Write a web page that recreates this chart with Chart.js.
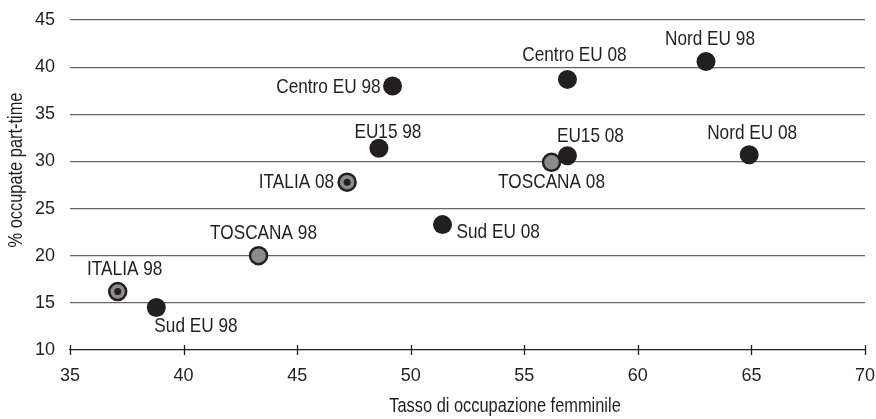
<!DOCTYPE html>
<html>
<head>
<meta charset="utf-8">
<script src="https://cdn.jsdelivr.net/npm/chart.js@4.4.1/dist/chart.umd.min.js"></script>
<style>
  html, body { margin: 0; padding: 0; background: #fff; }
  #wrap { width: 876px; height: 419px; }
</style>
</head>
<body>
<div id="wrap"><canvas id="chart" width="876" height="419"></canvas></div>
<script>
// ***************************************************
// Data
// ***************************************************

var names = ['ITALIA 98', 'Sud EU 98', 'TOSCANA 98', 'ITALIA 08', 'EU15 98', 'Centro EU 98',
             'Sud EU 08', 'TOSCANA 08', 'EU15 08', 'Centro EU 08', 'Nord EU 98', 'Nord EU 08'];
var femaleEmployment = [37.1, 38.8, 43.3, 47.2, 48.6, 49.2, 51.4, 56.2, 56.9, 56.9, 63.0, 64.9];
var partTime = [16.2, 14.5, 20.0, 27.8, 31.4, 38.0, 23.3, 29.9, 30.6, 38.7, 40.6, 30.7];
var kinds = ['italia', 'eu', 'toscana', 'italia', 'eu', 'eu', 'eu', 'toscana', 'eu', 'eu', 'eu', 'eu'];

var xTicks = [35, 40, 45, 50, 55, 60, 65, 70];
var yTicks = [10, 15, 20, 25, 30, 35, 40, 45];

var xTitle = 'Tasso di occupazione femminile';
var yTitle = '% occupate part-time';

// label placement: [textAlign, dx, dy] relative to the point, in pixels
var labelPlace = [
  ['center', 7, -22], ['left', -2, 19], ['center', 5, -23], ['right', -13, 0],
  ['center', 9, -16], ['right', -12, 1], ['left', 14, 8], ['center', 0, 20],
  ['center', 23, -20], ['center', 7, -24], ['center', 4, -22], ['center', 3, -22]
];

var FONT = '"Liberation Sans Narrow", "Arial Narrow", "Liberation Sans", Arial, sans-serif';
var INK = '#231f20';
var GREY = '#8c8c8c';

(function() {

  function pointsOf(kindList) {
    var out = [];
    for (var i = 0; i < names.length; i++) {
      if (kindList.indexOf(kinds[i]) >= 0) {
        out.push({ x: femaleEmployment[i], y: partTime[i] });
      }
    }
    return out;
  }

  // no narrow font installed: squeeze regular sans horizontally
  function narrowText(ctx, text, x, y, align, size, sx, rot) {
    ctx.save();
    ctx.translate(x, y);
    if (rot) ctx.rotate(rot);
    ctx.scale(sx, 1);
    ctx.font = size + 'px ' + FONT;
    ctx.fillStyle = INK;
    ctx.textAlign = align;
    ctx.textBaseline = 'middle';
    ctx.fillText(text, 0, 0);
    ctx.restore();
  }

  // ***************************************************
  // Plugins: point labels, axis titles, crossing x ticks
  // ***************************************************

  var textLayer = {
    id: 'textLayer',
    afterDatasetsDraw: function(chart) {
      var ctx = chart.ctx;
      var xs = chart.scales.x, ys = chart.scales.y;
      for (var i = 0; i < names.length; i++) {
        var p = labelPlace[i];
        narrowText(ctx, names[i],
          xs.getPixelForValue(femaleEmployment[i]) + p[1],
          ys.getPixelForValue(partTime[i]) + p[2], p[0], 21, 0.82, 0);
      }
      narrowText(ctx, xTitle, 505, 406, 'center', 20, 0.82, 0);
      narrowText(ctx, yTitle, 16, 170, 'center', 20, 0.82, -Math.PI / 2);
    }
  };

  var crossTicks = {
    id: 'crossTicks',
    afterDraw: function(chart) {
      var ctx = chart.ctx;
      var xs = chart.scales.x;
      var y0 = chart.chartArea.bottom;
      ctx.save();
      ctx.strokeStyle = INK;
      ctx.lineWidth = 1.3;
      ctx.beginPath();
      xTicks.forEach(function(t) {
        var px = Math.round(xs.getPixelForValue(t)) + 0.5;
        ctx.moveTo(px, y0 - 5);
        ctx.lineTo(px, y0 + 5);
      });
      ctx.stroke();
      ctx.restore();
    }
  };

  // ***************************************************
  // Chart
  // ***************************************************

  new Chart(document.getElementById('chart'), {
    type: 'scatter',
    data: {
      datasets: [
        {
          data: pointsOf(['eu']),
          order: 3,
          pointRadius: 9.5,
          pointHoverRadius: 9.5,
          pointBackgroundColor: INK,
          pointBorderWidth: 0
        },
        {
          data: pointsOf(['toscana', 'italia']),
          order: 2,
          pointRadius: 8.5,
          pointHoverRadius: 8.5,
          pointBackgroundColor: GREY,
          pointBorderColor: INK,
          pointBorderWidth: 2.5
        },
        {
          data: pointsOf(['italia']),
          order: 1,
          pointRadius: 3.5,
          pointHoverRadius: 3.5,
          pointBackgroundColor: INK,
          pointBorderWidth: 0
        }
      ]
    },
    options: {
      responsive: false,
      animation: false,
      events: [],
      layout: { padding: { left: 0, right: 11, top: 20, bottom: 0 } },
      plugins: { legend: { display: false }, tooltip: { enabled: false } },
      scales: {
        x: {
          type: 'linear',
          min: 35,
          max: 70,
          afterBuildTicks: function(s) { s.ticks = xTicks.map(function(v) { return { value: v }; }); },
          afterFit: function(s) { s.height = 69; s.paddingLeft = 0; s.paddingRight = 0; },
          grid: { display: false, drawTicks: false },
          border: { display: true, color: INK, width: 1.3 },
          ticks: { color: INK, padding: 15, font: { family: FONT, size: 18 }, maxRotation: 0 }
        },
        y: {
          type: 'linear',
          min: 10,
          max: 45,
          afterBuildTicks: function(s) { s.ticks = yTicks.map(function(v) { return { value: v }; }); },
          afterFit: function(s) { s.width = 70; s.paddingTop = 0; s.paddingBottom = 0; },
          grid: {
            drawTicks: false,
            lineWidth: 1.2,
            color: function(c) { return c.tick && c.tick.value === 10 ? 'rgba(0,0,0,0)' : '#666666'; }
          },
          border: { display: false },
          ticks: { color: INK, padding: 15, font: { family: FONT, size: 18 } }
        }
      }
    },
    plugins: [textLayer, crossTicks]
  });

})();
</script>
</body>
</html>
